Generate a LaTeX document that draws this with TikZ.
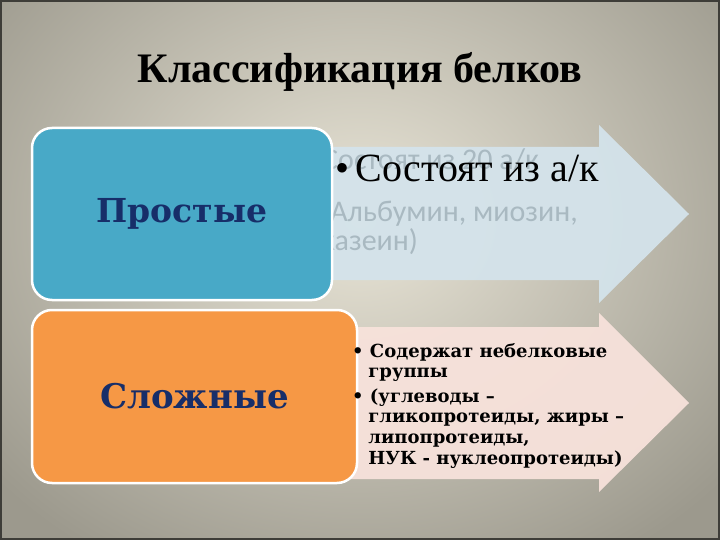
\documentclass[tikz,border=0pt]{standalone}
\usepackage{fontspec}
\setmainfont{Liberation Serif}
\newfontfamily\widefont{DejaVu Serif}
\newfontfamily\ghostfont{Carlito}
\usepackage{xcolor}
\usetikzlibrary{calc}
\definecolor{bgin}{HTML}{E9E5D7}
\definecolor{bgout}{HTML}{9C998D}
\definecolor{frame}{HTML}{3E3D38}
\definecolor{simpleblue}{HTML}{48A9C7}
\definecolor{complexorange}{HTML}{F69845}
\definecolor{arrowblue}{HTML}{D4E3EB}
\definecolor{arrowpink}{HTML}{F7E2DB}
\definecolor{ghost}{HTML}{A9B9C1}
\definecolor{navy}{HTML}{172E69}
\tikzset{
    catbox/.style={draw=white, line width=2.5pt, rounded corners=20pt, inner sep=0pt},
    catlabel/.style={text=navy, font=\widefont\bfseries\fontsize{33}{38}\selectfont},
    ghostline/.style={anchor=base west, text=ghost, font=\ghostfont\fontsize{30}{30}\selectfont, inner sep=0pt},
    bigarrow/.style={draw=none, opacity=0.95}}

\begin{document}
\begin{tikzpicture}[x=1pt,y=-1pt]
\useasboundingbox (0,0) rectangle (720,540);
\begin{scope}
\clip (0,0) rectangle (720,540);
\shade[inner color=bgin, outer color=bgout] (-120,-180) rectangle (840,620);
\end{scope}
\draw[frame, line width=4pt] (0,0) rectangle (720,540);

\node[anchor=base, inner sep=0pt] (title) at (360,83) {\bfseries\fontsize{42}{48}\selectfont Классификация белков};

% arrows
\coordinate (A1) at (300,147);
\coordinate (A1tip) at (689,214);
\fill[arrowblue, bigarrow] (A1) -- (599,147) -- (599,125) -- (A1tip) -- (599,303) -- (599,280) -- (300,280) -- cycle;
\coordinate (A2) at (320,327);
\coordinate (A2tip) at (689,403);
\fill[arrowpink, bigarrow] (A2) -- (599,327) -- (599,313) -- (A2tip) -- (599,492) -- (599,479) -- (320,479) -- cycle;

% faded text behind
\node[ghostline] (ghost1) at (322,170) {Состоят из 20 а/к};
\node[ghostline] (ghost2) at (321,222) {(Альбумин, миозин,};
\node[ghostline] (ghost3) at (321,251) {казеин)};

% category boxes
\node[catbox, fill=simpleblue, minimum width=300pt, minimum height=172pt] (simple) at (182,214) {};
\node[catbox, fill=complexorange, minimum width=325pt, minimum height=173pt] (complex) at (194.5,396.5) {};
\node[catlabel] at (simple) {Простые};
\node[catlabel, font=\widefont\bfseries\fontsize{34}{38}\selectfont] at (complex) {Сложные};

\node[anchor=base west, inner sep=0pt, font=\fontsize{40}{44}\selectfont] (simpletext) at (335,182) {\textbullet\,Состоят из а/к};
\node[anchor=north west, inner sep=0pt, align=left, font=\widefont\bfseries\fontsize{18}{20.6}\selectfont] (complextext) at (352,343)
  {\textbullet\ Содержат небелковые\\
   \hspace*{0.9em}группы\\[4pt]
   \textbullet\ (углеводы –\\
   \hspace*{0.9em}гликопротеиды, жиры –\\
   \hspace*{0.9em}липопротеиды,\\
   \hspace*{0.9em}НУК - нуклеопротеиды)};
\end{tikzpicture}
\end{document}
